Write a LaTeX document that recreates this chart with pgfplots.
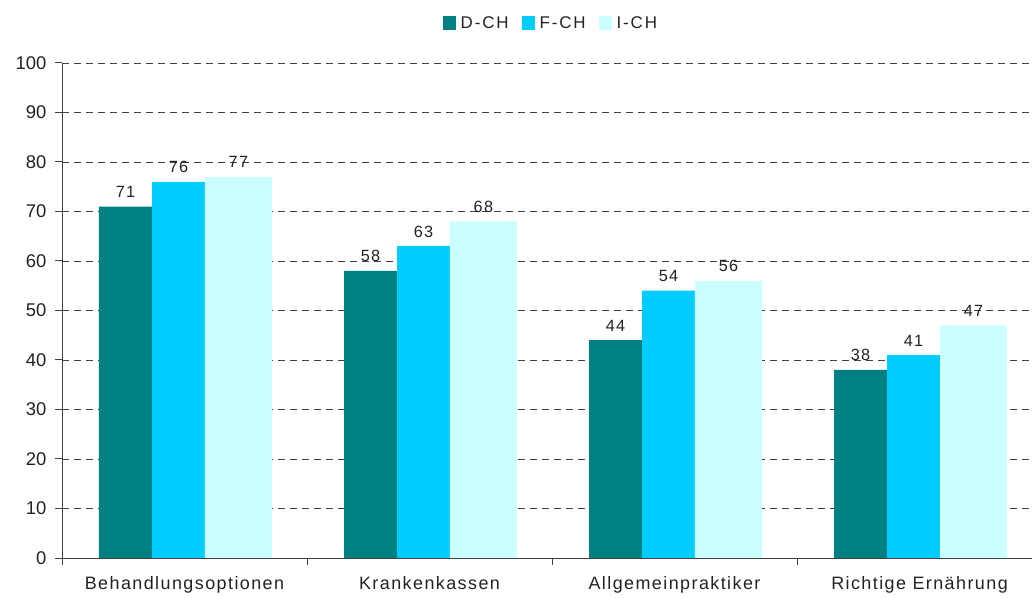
\documentclass[border=0pt]{standalone}
\usepackage{fontspec}
\setmainfont{Liberation Sans}
\newfontfamily\spaced{Liberation Sans}[LetterSpace=8]
\newfontfamily\legfont{Liberation Sans}[LetterSpace=11]
\usepackage{pgfplots}
\pgfplotsset{compat=1.18}
\definecolor{dch}{HTML}{008080}
\definecolor{fch}{HTML}{00CCFF}
\definecolor{ich}{HTML}{CCFFFF}
\definecolor{axgray}{HTML}{404040}
\definecolor{txt}{HTML}{222222}
\begin{document}
\begin{tikzpicture}
\path[use as bounding box] (-62bp,-41bp) rectangle (970bp,558bp);
\begin{axis}[
  at={(0,0)}, anchor=south west,
  scale only axis, width=970bp, height=495bp,
  xmin=-0.5, xmax=3.459, ymin=0, ymax=100,
  axis x line*=bottom, axis y line*=left,
  axis line style={-, axgray, line width=1bp},
  ybar=0pt,
  ytick={0,10,...,100},
  ymajorgrids,
  major grid style={axgray, dash pattern=on 7bp off 5bp, line width=0.8bp},
  xtick={-0.5,0.5,1.5,2.5},
  xticklabels={},
  extra x ticks={0,1,2,3},
  extra x tick labels={Behandlungsoptionen, Krankenkassen, Allgemeinpraktiker, Richtige Ernährung},
  extra x tick style={major tick length=0pt, tick label style={font=\spaced\fontsize{18}{20}\selectfont, text=txt, yshift=-15bp}},
  tick align=outside,
  major tick length=7bp,
  tick style={axgray, line width=1bp},
  /pgf/number format/assume math mode=true,
  yticklabel style={font=\fontsize{18.5}{20}\selectfont, text=txt, xshift=-5bp},
  nodes near coords,
  every node near coord/.append style={font=\spaced\fontsize{16.3}{18}\selectfont, text=txt, anchor=base, yshift=9bp},
  legend columns=3,
  legend style={draw=none, fill=none, at={(0.504,1.081)}, anchor=center,
    font=\legfont\fontsize{17}{19}\selectfont, text=txt,
    /tikz/every even column/.append style={column sep=11bp}},
]
\addplot[fill=dch, draw=none, bar width=0.216, bar shift=-0.241,
  legend image code/.code={\fill[dch] (0bp,-6.6bp) rectangle (13.3bp,6.6bp); \draw[draw=none] (0bp,0bp) -- (16bp,0bp);}]
  coordinates {(0,71) (1,58) (2,44) (3,38)};
\addplot[fill=fch, draw=none, bar width=0.216, bar shift=-0.0245,
  legend image code/.code={\fill[fch] (0bp,-6.6bp) rectangle (13.3bp,6.6bp); \draw[draw=none] (0bp,0bp) -- (16bp,0bp);}]
  coordinates {(0,76) (1,63) (2,54) (3,41)};
\addplot[fill=ich, draw=none, bar width=0.273, bar shift=0.220,
  legend image code/.code={\fill[ich] (0bp,-6.6bp) rectangle (13.3bp,6.6bp); \draw[draw=none] (0bp,0bp) -- (16bp,0bp);}]
  coordinates {(0,77) (1,68) (2,56) (3,47)};
\legend{D-CH, F-CH, I-CH}
\end{axis}
\end{tikzpicture}
\end{document}
